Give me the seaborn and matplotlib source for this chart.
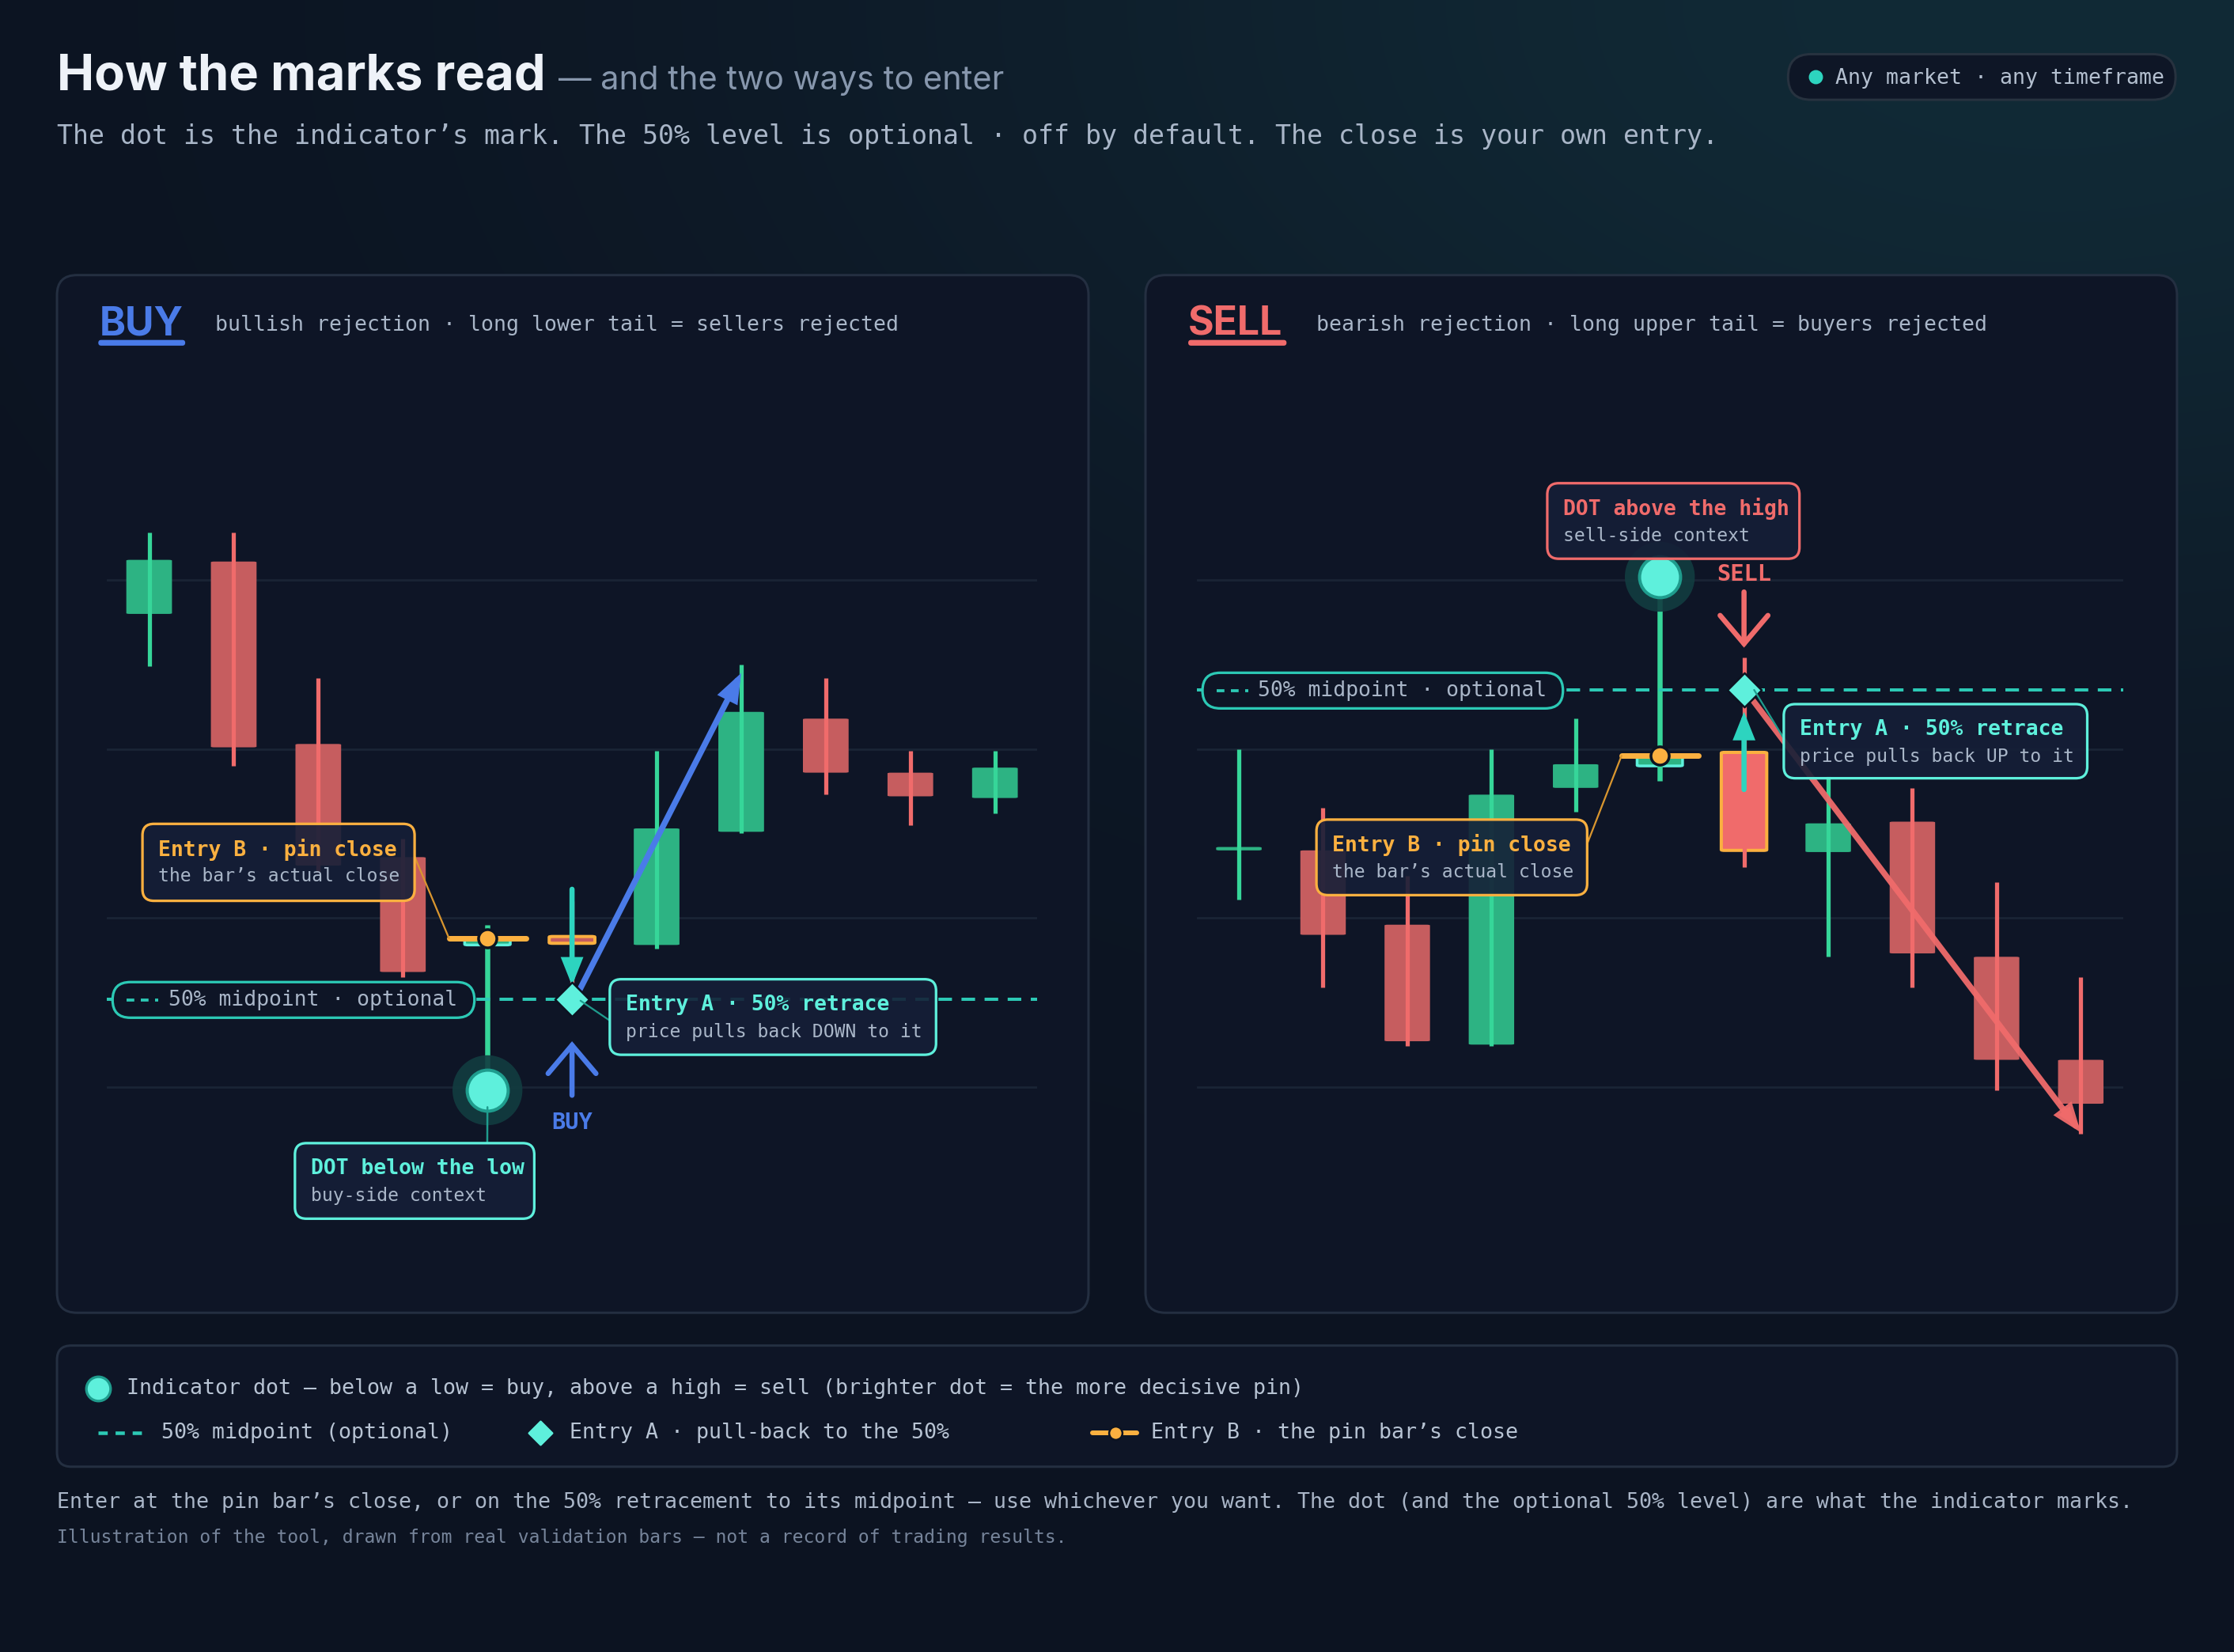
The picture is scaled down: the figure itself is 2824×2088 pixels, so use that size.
import numpy as np
import pandas as pd
import matplotlib
matplotlib.use("Agg")
import matplotlib.pyplot as plt
import matplotlib.colors as mcolors
from matplotlib.patches import FancyBboxPatch
import seaborn as sns

#-----------------------------------------------------------------
# Data : candles (index 0..10) for the two example panels
#-----------------------------------------------------------------
candle_idx = list(range(11))

buy_open  = [128.0, 131.1, 120.3, 113.6, 108.4, 108.9, 108.4, 115.1, 121.8, 118.6, 117.1]
buy_high  = [132.8, 132.8, 124.2, 114.7, 109.6, 111.0, 119.9, 125.0, 124.2, 119.9, 119.9]
buy_low   = [124.9, 119.0, 112.7, 106.5, 100.8, 105.0, 108.2, 115.0, 117.3, 115.5, 116.2]
buy_close = [131.2, 120.1, 113.1, 106.8, 108.8, 108.5, 115.3, 122.2, 118.6, 117.2, 118.9]
buy_pin, buy_entry = 4, 5
buy_dot = 99.8
buy_target = (7, 124.5)

sell_open  = [114.0, 114.0, 109.6, 102.5, 117.7, 119.0, 119.8, 113.9, 115.7, 107.7, 101.6]
sell_high  = [120.0, 116.5, 112.5, 120.0, 121.8, 128.9, 125.4, 118.4, 117.7, 112.1, 106.5]
sell_low   = [111.1, 105.9, 102.4, 102.4, 116.3, 118.1, 113.0, 107.7, 105.9, 99.8, 97.2]
sell_close = [114.2, 109.0, 102.7, 117.3, 119.1, 119.6, 114.0, 115.6, 107.9, 101.6, 99.0]
sell_pin, sell_entry = 5, 6
sell_dot = 130.2
sell_target = (10, 97.3)

grid_levels = [100, 110, 120, 130]

#-----------------------------------------------------------------
# Style
#-----------------------------------------------------------------
W, H, DPI = 2824, 2088, 180
PW, PH = 1568.0, 1159.0          # layout units

BG = "#0c1321"
PANEL = "#0e1526"
EDGE = "#242f41"
GRID = "#1a2435"
BOX_FC = (0.082, 0.122, 0.215, 0.90)
TEXT = "#a9b6c8"
DIM = "#76849a"
TEAL = "#5ef0dc"
TEAL_D = "#2cc9b5"
TEAL_LINE = "#1f9c8d"
GREEN_B = "#2db383"
GREEN_W = "#36d699"
RED_B = "#c65d5f"
RED_W = "#f06b6b"
RED_HI = "#f06b6b"
ORANGE = "#fbb040"
BLUE = "#4a7be8"
MONO = "DejaVu Sans Mono"
SANS = "Inter"

sns.set_theme(style="dark", rc={"axes.facecolor": "none", "figure.facecolor": BG,
                                "grid.color": GRID, "grid.linewidth": 1.1})
plt.rcParams["font.family"] = [MONO, "DejaVu Sans"]

fig = plt.figure(figsize=(W / DPI, H / DPI), dpi=DPI)

# background with a faint teal glow at the top right
bg = fig.add_axes([0, 0, 1, 1], zorder=0)
ny, nx = 240, 320
yy, xx = np.mgrid[0:1:ny * 1j, 0:1:nx * 1j]
base = np.array(mcolors.to_rgb(BG))
tint = np.array(mcolors.to_rgb("#112a36"))
wgt = np.exp(-(((xx - 0.92) / 0.55) ** 2 + ((yy - 0.0) / 0.42) ** 2))
img = base * (1 - wgt[..., None]) + tint * wgt[..., None]
bg.imshow(img, extent=[0, PW, PH, 0], aspect="auto", interpolation="bilinear")
bg.set_xlim(0, PW)
bg.set_ylim(PH, 0)
bg.axis("off")

for x0 in (40, 804):
    bg.add_patch(FancyBboxPatch((x0, 193), 724, 728,
                                boxstyle="round,pad=0,rounding_size=14",
                                fc=PANEL, ec=EDGE, lw=1.2))
bg.add_patch(FancyBboxPatch((40, 944), 1488, 85, boxstyle="round,pad=0,rounding_size=10",
                            fc=PANEL, ec=EDGE, lw=1.2))
bg.add_patch(FancyBboxPatch((1255, 38), 272, 32, boxstyle="round,pad=0,rounding_size=16",
                            fc="#0e1626", ec="#27323f", lw=1.2))

# layout overlay for text and callouts
lay = fig.add_axes([0, 0, 1, 1], zorder=4)
lay.set_xlim(0, PW)
lay.set_ylim(PH, 0)
lay.axis("off")
lay.patch.set_alpha(0)


def px_axes(x0, y0, x1, y1, z=2):
    return fig.add_axes([x0 / PW, 1 - y1 / PH, (x1 - x0) / PW, (y1 - y0) / PH], zorder=z)


PX_PER_UNIT = 11.85
Y_TOP, Y_BOT = 260, 900


def make_chart(x0, x1):
    ax = px_axes(x0, Y_TOP, x1, Y_BOT)
    ax.set_xlim(-0.5, 10.5)
    ax.set_ylim(130 - (Y_BOT - 407) / PX_PER_UNIT, 130 + (407 - Y_TOP) / PX_PER_UNIT)
    ax.set_yticks(grid_levels)
    ax.set_xticks([])
    ax.tick_params(left=False, labelleft=False)
    ax.grid(axis="y", zorder=0)
    ax.grid(axis="x", visible=False)
    sns.despine(ax=ax, left=True, bottom=True)
    return ax


def draw_candles(ax, o, h, l, c, pin, entry, entry_fc):
    df = pd.DataFrame({"x": candle_idx, "o": o, "h": h, "l": l, "c": c})
    for r in df.itertuples():
        up = r.c >= r.o
        fc = GREEN_B if up else RED_B
        wc = GREEN_W if up else RED_W
        ec = "none"
        lw = 0
        if r.x == pin:
            fc, ec, lw = GREEN_B, TEAL, 1.4
        if r.x == entry:
            fc, ec, lw = entry_fc, ORANGE, 1.6
        bot = min(r.o, r.c)
        hgt = max(abs(r.c - r.o), 0.15)
        ax.add_patch(FancyBboxPatch((r.x - 0.27, bot), 0.54, hgt,
                                    boxstyle="round,pad=0,rounding_size=0.04",
                                    fc=fc, ec=ec, lw=lw, zorder=2))
        ax.vlines(r.x, r.l, r.h, color=wc, lw=2.1 if r.x != pin else 2.6, zorder=3)
    return df


def close_marker(ax, x, y):
    ax.hlines(y, x - 0.455, x + 0.455, color=ORANGE, lw=2.8, zorder=7, capstyle="round")
    sns.scatterplot(x=[x], y=[y], ax=ax, s=85, color=ORANGE, edgecolor="#0c1321",
                    linewidth=1.4, zorder=8, legend=False)


def indicator_dot(ax, x, y):
    sns.scatterplot(x=[x], y=[y], ax=ax, s=1250, color="#123c40", edgecolor="none",
                    alpha=0.9, zorder=6, legend=False)
    sns.scatterplot(x=[x], y=[y], ax=ax, s=430, color=TEAL, edgecolor=TEAL_LINE,
                    linewidth=1.6, zorder=7, legend=False)


def diamond(ax, x, y):
    sns.scatterplot(x=[x], y=[y], ax=ax, s=150, marker="D", color=TEAL, edgecolor="#0c1321",
                    linewidth=1.0, zorder=9, legend=False)


def arrow(ax, xy_from, xy_to, color, lw, style, ms=12, z=8, alpha=1.0):
    ax.annotate("", xy=xy_to, xytext=xy_from, xycoords="data",
                arrowprops=dict(arrowstyle=style, color=color, lw=lw, shrinkA=0, shrinkB=0,
                                mutation_scale=ms, alpha=alpha, capstyle="round",
                                joinstyle="miter"),
                zorder=z, annotation_clip=False)


def callout(box, title, sub, color):
    x0, y0, x1, y1 = box
    lay.add_patch(FancyBboxPatch((x0, y0), x1 - x0, y1 - y0,
                                 boxstyle="round,pad=0,rounding_size=8",
                                 fc=BOX_FC, ec=color, lw=1.3, zorder=5))
    lay.text(x0 + 11, y0 + 18, title, color=color, fontsize=10.55, weight="bold",
             va="center", zorder=6)
    lay.text(x0 + 11, y0 + 37, sub, color=TEXT, fontsize=9.2, va="center", zorder=6)


def mid_pill(box):
    x0, y0, x1, y1 = box
    hh = y1 - y0
    lay.add_patch(FancyBboxPatch((x0, y0), x1 - x0, hh,
                                 boxstyle="round,pad=0,rounding_size=%f" % (hh / 2),
                                 fc="#0e1526", ec=TEAL_D, lw=1.3, zorder=5))
    cy = (y0 + y1) / 2
    lay.plot([x0 + 10, x0 + 32], [cy, cy], color=TEAL_D, lw=1.5, ls=(0, (2.6, 2.2)), zorder=6)
    lay.text(x0 + 39, cy, "50% midpoint · optional", color=TEXT, fontsize=10.55,
             va="center", zorder=6)


def leader(ax, xy_data, xy_lay, color, lw=0.9):
    lay.annotate("", xy=xy_data, xycoords=ax.transData, xytext=xy_lay, textcoords="data",
                 arrowprops=dict(arrowstyle="-", color=color, lw=lw, shrinkA=0, shrinkB=0),
                 zorder=4, annotation_clip=False)


#-----------------------------------------------------------------
# BUY panel
#-----------------------------------------------------------------
ax_b = make_chart(75, 728)
draw_candles(ax_b, buy_open, buy_high, buy_low, buy_close, buy_pin, buy_entry, RED_B)
b_mid = (buy_high[buy_pin] + buy_low[buy_pin]) / 2
ax_b.axhline(b_mid, color=TEAL_D, lw=1.6, ls=(0, (4.3, 3.0)), zorder=4)
close_marker(ax_b, buy_pin, buy_close[buy_pin])
indicator_dot(ax_b, buy_pin, buy_dot)
arrow(ax_b, (buy_entry, b_mid + 6.5), (buy_entry, b_mid + 0.8), "#2dd4bf", 2.6,
      "-|>,head_width=0.32,head_length=0.8", ms=12)
arrow(ax_b, (buy_entry + 0.07, b_mid + 0.35), buy_target, BLUE, 3.0,
      "-|>,head_width=0.3,head_length=0.8", ms=12, z=9)
arrow(ax_b, (buy_entry, b_mid - 5.7), (buy_entry, b_mid - 2.5), BLUE, 2.6,
      "->,head_width=0.55,head_length=0.65", ms=22)
diamond(ax_b, buy_entry, b_mid)
ax_b.text(buy_entry, b_mid - 7.3, "BUY", color=BLUE, fontsize=11.5, weight="bold",
          ha="center", va="center", zorder=9)

#-----------------------------------------------------------------
# SELL panel
#-----------------------------------------------------------------
ax_s = make_chart(840, 1490)
draw_candles(ax_s, sell_open, sell_high, sell_low, sell_close, sell_pin, sell_entry, RED_HI)
s_mid = (sell_high[sell_pin] + sell_low[sell_pin]) / 2
ax_s.axhline(s_mid, color=TEAL_D, lw=1.6, ls=(0, (4.3, 3.0)), zorder=4)
close_marker(ax_s, sell_pin, sell_close[sell_pin])
indicator_dot(ax_s, sell_pin, sell_dot)
arrow(ax_s, (sell_entry, s_mid - 5.9), (sell_entry, s_mid - 1.3), "#2dd4bf", 2.6,
      "-|>,head_width=0.32,head_length=0.8", ms=12)
arrow(ax_s, (sell_entry + 0.08, s_mid - 0.45), sell_target, RED_W, 3.0,
      "-|>,head_width=0.3,head_length=0.8", ms=12, z=9, alpha=0.95)
arrow(ax_s, (sell_entry, s_mid + 5.8), (sell_entry, s_mid + 2.5), RED_W, 2.6,
      "->,head_width=0.55,head_length=0.65", ms=22)
diamond(ax_s, sell_entry, s_mid)
ax_s.text(sell_entry, s_mid + 6.85, "SELL", color=RED_W, fontsize=11.5, weight="bold",
          ha="center", va="center", zorder=9)

#-----------------------------------------------------------------
# Callouts, pills and leaders
#-----------------------------------------------------------------
mid_pill((79, 689, 333, 714))
mid_pill((844, 472, 1097, 497))

callout((100, 578, 291, 632), "Entry B · pin close", "the bar’s actual close", ORANGE)
callout((428, 687, 657, 740), "Entry A · 50% retrace", "price pulls back DOWN to it", TEAL)
callout((207, 802, 375, 855), "DOT below the low", "buy-side context", TEAL)
callout((1086, 339, 1263, 392), "DOT above the high", "sell-side context", RED_W)
callout((1252, 494, 1465, 546), "Entry A · 50% retrace", "price pulls back UP to it", TEAL)
callout((924, 575, 1114, 628), "Entry B · pin close", "the bar’s actual close", ORANGE)

leader(ax_b, (buy_pin - 0.455, buy_close[buy_pin]), (291, 601), "#d9962f")
leader(ax_s, (sell_pin - 0.455, sell_close[sell_pin]), (1114, 592), "#d9962f")
leader(ax_b, (buy_entry + 0.1, b_mid - 0.1), (428, 716), TEAL_LINE)
leader(ax_s, (sell_entry + 0.12, s_mid), (1252, 518), TEAL_LINE)
leader(ax_b, (buy_pin, buy_dot - 1.0), (342, 802), TEAL_LINE, lw=1.0)

#-----------------------------------------------------------------
# Titles
#-----------------------------------------------------------------
lay.text(40, 63, "How the marks read", family=[SANS, "DejaVu Sans"], weight="bold",
         fontsize=25.3, color="#eef2f8", va="baseline")
lay.text(392, 63, "— and the two ways to enter", family=[SANS, "DejaVu Sans"],
         fontsize=16.6, color="#8797ad", va="baseline")
lay.text(40, 96, "The dot is the indicator’s mark. The 50% level is optional · off by default. "
         "The close is your own entry.", fontsize=13.3, color=TEXT, va="center")
lay.scatter([1274], [54], s=38, color="#2dd4bf", zorder=6)
lay.text(1288, 55, "Any market · any timeframe", fontsize=10.6, color="#b4c0d0", va="center")

lay.text(70, 235, "BUY", family=[SANS, "DejaVu Sans"], weight="bold", fontsize=20,
         color=BLUE, va="baseline")
lay.add_patch(FancyBboxPatch((69, 238.5), 61, 4, boxstyle="round,pad=0,rounding_size=2",
                             fc=BLUE, ec="none"))
lay.text(151, 228, "bullish rejection · long lower tail = sellers rejected",
         fontsize=10.6, color=TEXT, va="center")
lay.text(834, 235, "SELL", family=[SANS, "DejaVu Sans"], weight="bold", fontsize=20,
         color=RED_W, va="baseline")
lay.add_patch(FancyBboxPatch((834, 238.5), 69, 4, boxstyle="round,pad=0,rounding_size=2",
                             fc=RED_W, ec="none"))
lay.text(924, 228, "bearish rejection · long upper tail = buyers rejected",
         fontsize=10.6, color=TEXT, va="center")

#-----------------------------------------------------------------
# Legend strip and footer
#-----------------------------------------------------------------
lay.scatter([69], [974], s=150, color=TEAL, edgecolor=TEAL_LINE, linewidth=1.3, zorder=6)
lay.text(89, 974, "Indicator dot — below a low = buy, above a high = sell "
         "(brighter dot = the more decisive pin)", fontsize=10.66, color="#b8c4d4", va="center")
lay.plot([69, 103], [1005, 1005], color=TEAL_D, lw=1.8, ls=(0, (2.6, 2.2)), zorder=6)
lay.text(113, 1005, "50% midpoint (optional)", fontsize=10.66, color="#b8c4d4", va="center")
lay.scatter([379], [1005], s=70, marker="D", color=TEAL, zorder=6)
lay.text(400, 1005, "Entry A · pull-back to the 50%", fontsize=10.66, color="#b8c4d4",
         va="center")
lay.plot([767, 798], [1005, 1005], color=ORANGE, lw=2.4, zorder=6, solid_capstyle="round")
lay.scatter([783], [1005], s=45, color=ORANGE, edgecolor="#0c1321", linewidth=1.0, zorder=7)
lay.text(808, 1005, "Entry B · the pin bar’s close", fontsize=10.66, color="#b8c4d4",
         va="center")

lay.text(40, 1054, "Enter at the pin bar’s close, or on the 50% retracement to its midpoint — "
         "use whichever you want. The dot (and the optional 50% level) are what the "
         "indicator marks.", fontsize=10.66, color="#aab6c8", va="center")
lay.text(40, 1079, "Illustration of the tool, drawn from real validation bars — "
         "not a record of trading results.", fontsize=9.2, color=DIM, va="center")

fig.savefig("out.png", dpi=DPI, facecolor=BG)
